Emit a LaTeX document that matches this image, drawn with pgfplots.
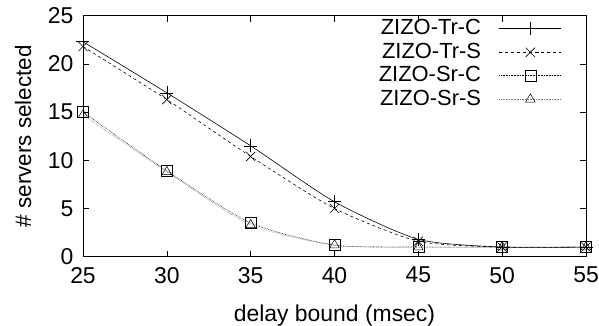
\documentclass[border=0pt]{standalone}
\usepackage{fontspec}
\setmainfont{Liberation Sans}
\usepackage{pgfplots}
\pgfplotsset{compat=1.18}
\begin{document}
\begin{tikzpicture}
\begin{axis}[
  scale only axis,
  width=503bp, height=241bp,
  xmin=25, xmax=55, ymin=0, ymax=25,
  xtick={25,30,35,40,45,50,55},
  ytick={0,5,10,15,20,25},
  tick align=inside,
  major tick length=6bp,
  every tick/.style={black, line width=0.6pt},
  axis line style={line width=0.8pt},
  /pgf/number format/assume math mode=true,
  tick label style={font=\fontsize{23}{26}\selectfont},
  yticklabel style={xshift=-6bp},
  xticklabel style={yshift=-7bp},
  xlabel={delay bound (msec)},
  ylabel={\# servers selected},
  every axis x label/.style={at={(axis description cs:0.5,-0.2436)}, anchor=center, font=\fontsize{23}{26}\selectfont},
  every axis y label/.style={at={(axis description cs:-0.1193,0.5)}, rotate=90, anchor=center, font=\fontsize{22.5}{25}\selectfont},
  legend style={draw=none, fill=none, at={(0.952,0.988)}, anchor=north east,
    font=\fontsize{22}{24}\selectfont, row sep=3.5bp, inner sep=0pt,
    nodes={inner sep=0pt, text height=16bp, text depth=4bp},
    /tikz/every odd column/.append style={column sep=18bp}},
  legend cell align=right,
  legend plot pos=right,
  legend image code/.code={%
    \draw[mark repeat=2,mark phase=2,#1] plot coordinates {(0bp,0bp) (31bp,0bp) (62bp,0bp)};},
  every axis plot/.append style={line width=0.6pt, smooth, tension=0.4},
]
\coordinate (ll) at (rel axis cs:0,0);
\coordinate (ur) at (rel axis cs:1,1);
\addplot[black, solid, mark=+, mark size=6.5bp, mark options={solid}] coordinates {
 (25,22.3) (30,17.0) (35,11.5) (40,5.7) (45,1.8) (50,1.0) (55,1.0)};
\addlegendentry{ZIZO-Tr-C}
\addplot[black, dashed, mark=x, mark size=6.5bp, mark options={solid}] coordinates {
 (25,21.8) (30,16.3) (35,10.4) (40,5.0) (45,1.6) (50,1.0) (55,1.0)};
\addlegendentry{ZIZO-Tr-S}
\addplot[black, densely dotted, mark=square, mark size=5.5bp, mark options={solid}] coordinates {
 (25,15.0) (30,8.9) (35,3.5) (40,1.2) (45,1.0) (50,1.0) (55,1.0)};
\addlegendentry{ZIZO-Sr-C}
\addplot[black!55, densely dotted, line width=0.5pt, mark=triangle, mark size=5.5bp, mark options={solid,black}] coordinates {
 (25,14.7) (30,8.8) (35,3.3) (40,1.2) (45,1.0) (50,1.0) (55,1.0)};
\addlegendentry{ZIZO-Sr-S}
\end{axis}
\pgfresetboundingbox
\path ([xshift=-83bp,yshift=-69.3bp]ll) rectangle ([xshift=13bp,yshift=15.7bp]ur);
\end{tikzpicture}
\end{document}
